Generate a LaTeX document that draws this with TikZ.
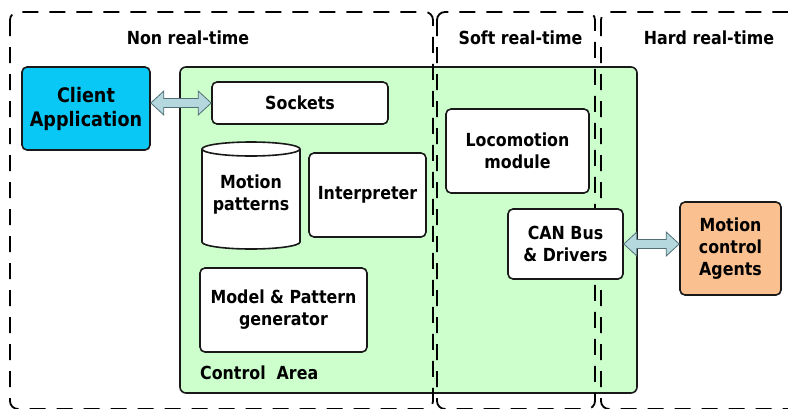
\documentclass[tikz,border=0pt]{standalone}
\usepackage{fontspec}
\setmainfont{DejaVu Sans}[FakeStretch=0.88]
\usetikzlibrary{calc}
\definecolor{cagreen}{RGB}{204,255,204}
\definecolor{cacyan}{RGB}{10,200,245}
\definecolor{caorange}{RGB}{250,192,143}
\definecolor{arrfill}{RGB}{180,216,222}
\definecolor{arrline}{RGB}{80,110,115}
\definecolor{boxline}{RGB}{25,25,25}
\newcommand\labelfont{\bfseries\fontsize{18}{22}\selectfont}
\newcommand\bigfont{\bfseries\fontsize{20}{24}\selectfont}
\newcommand\fatarrow[2]{%
  \draw[fatarr] let \p1=(#1), \p2=(#2) in
    (\x1,\y1) -- (\x1+13pt,\y1+12pt) -- (\x1+13pt,\y1+4.5pt) -- (\x2-13pt,\y2+4.5pt)
    -- (\x2-13pt,\y2+12pt) -- (\x2,\y2) -- (\x2-13pt,\y2-12pt) -- (\x2-13pt,\y2-4.5pt)
    -- (\x1+13pt,\y1-4.5pt) -- (\x1+13pt,\y1-12pt) -- cycle;}
\begin{document}
\begin{tikzpicture}[x=1pt,y=-1pt,
  wbox/.style={draw=boxline, line width=1.6pt, rounded corners=5pt, fill=white,
    align=center, inner sep=0pt, font=\labelfont},
  region/.style={draw=black, line width=1.8pt, dash pattern=on 16pt off 11pt, rounded corners=8pt},
  title/.style={font=\labelfont, inner sep=0pt},
  fatarr/.style={draw=arrline, line width=0.8pt, fill=arrfill, line join=miter}]
\useasboundingbox (0,0) rectangle (788,408);
% control area
\node[draw=boxline, line width=1.6pt, fill=cagreen, rounded corners=6pt, inner sep=0pt,
  minimum width=457pt, minimum height=326pt] (ctrl) at (408.5,230) {};
\node[title, anchor=west] (ctrllabel) at (200,373) {Control\ \ Area};
% regions
\draw[region] (10,12) rectangle (433,409);
\draw[region] (437,12) rectangle (595,409);
\draw[region] (601,12) rectangle (820,409);
\node[title] (tnon) at (188,38) {Non real-time};
\node[title] (tsoft) at (520.5,38) {Soft real-time};
\node[title] (thard) at (709,38) {Hard real-time};
% boxes
\node[wbox, font=\bigfont, fill=cacyan, minimum width=128pt, minimum height=83pt] (client) at (86,108.5) {Client\\Application};
\node[wbox, minimum width=176pt, minimum height=42pt] (sockets) at (300,103) {Sockets};
\node[wbox, minimum width=117pt, minimum height=84pt] (interp) at (367.5,195) {Interpreter};
\node[wbox, minimum width=167pt, minimum height=84pt] (model) at (283.5,310) {Model \& Pattern\\generator};
\node[wbox, minimum width=143pt, minimum height=84pt] (loco) at (517.5,151) {Locomotion\\module};
\node[wbox, minimum width=115pt, minimum height=70pt] (can) at (565.5,244) {CAN Bus\\\& Drivers};
\node[wbox, fill=caorange, minimum width=101pt, minimum height=93pt] (agents) at (730.5,248.5) {Motion\\control\\Agents};
% cylinder
\path[draw=boxline, line width=1.6pt, fill=white]
  (202,149) -- (202,242) arc[start angle=180, end angle=360, x radius=49pt, y radius=7pt]
  -- (300,149) arc[start angle=0, end angle=180, x radius=49pt, y radius=7pt] -- cycle;
\draw[boxline, line width=1.6pt] (202,149) arc[start angle=180, end angle=360, x radius=49pt, y radius=7pt];
\node[title, align=center] (motion) at (251,195) {Motion\\patterns};
% arrows
\coordinate (a1s) at (client.east |- sockets.west);
\coordinate (a2e) at (can.east -| agents.west);
\fatarrow{a1s}{sockets.west}
\fatarrow{can.east}{a2e}
\end{tikzpicture}
\end{document}
